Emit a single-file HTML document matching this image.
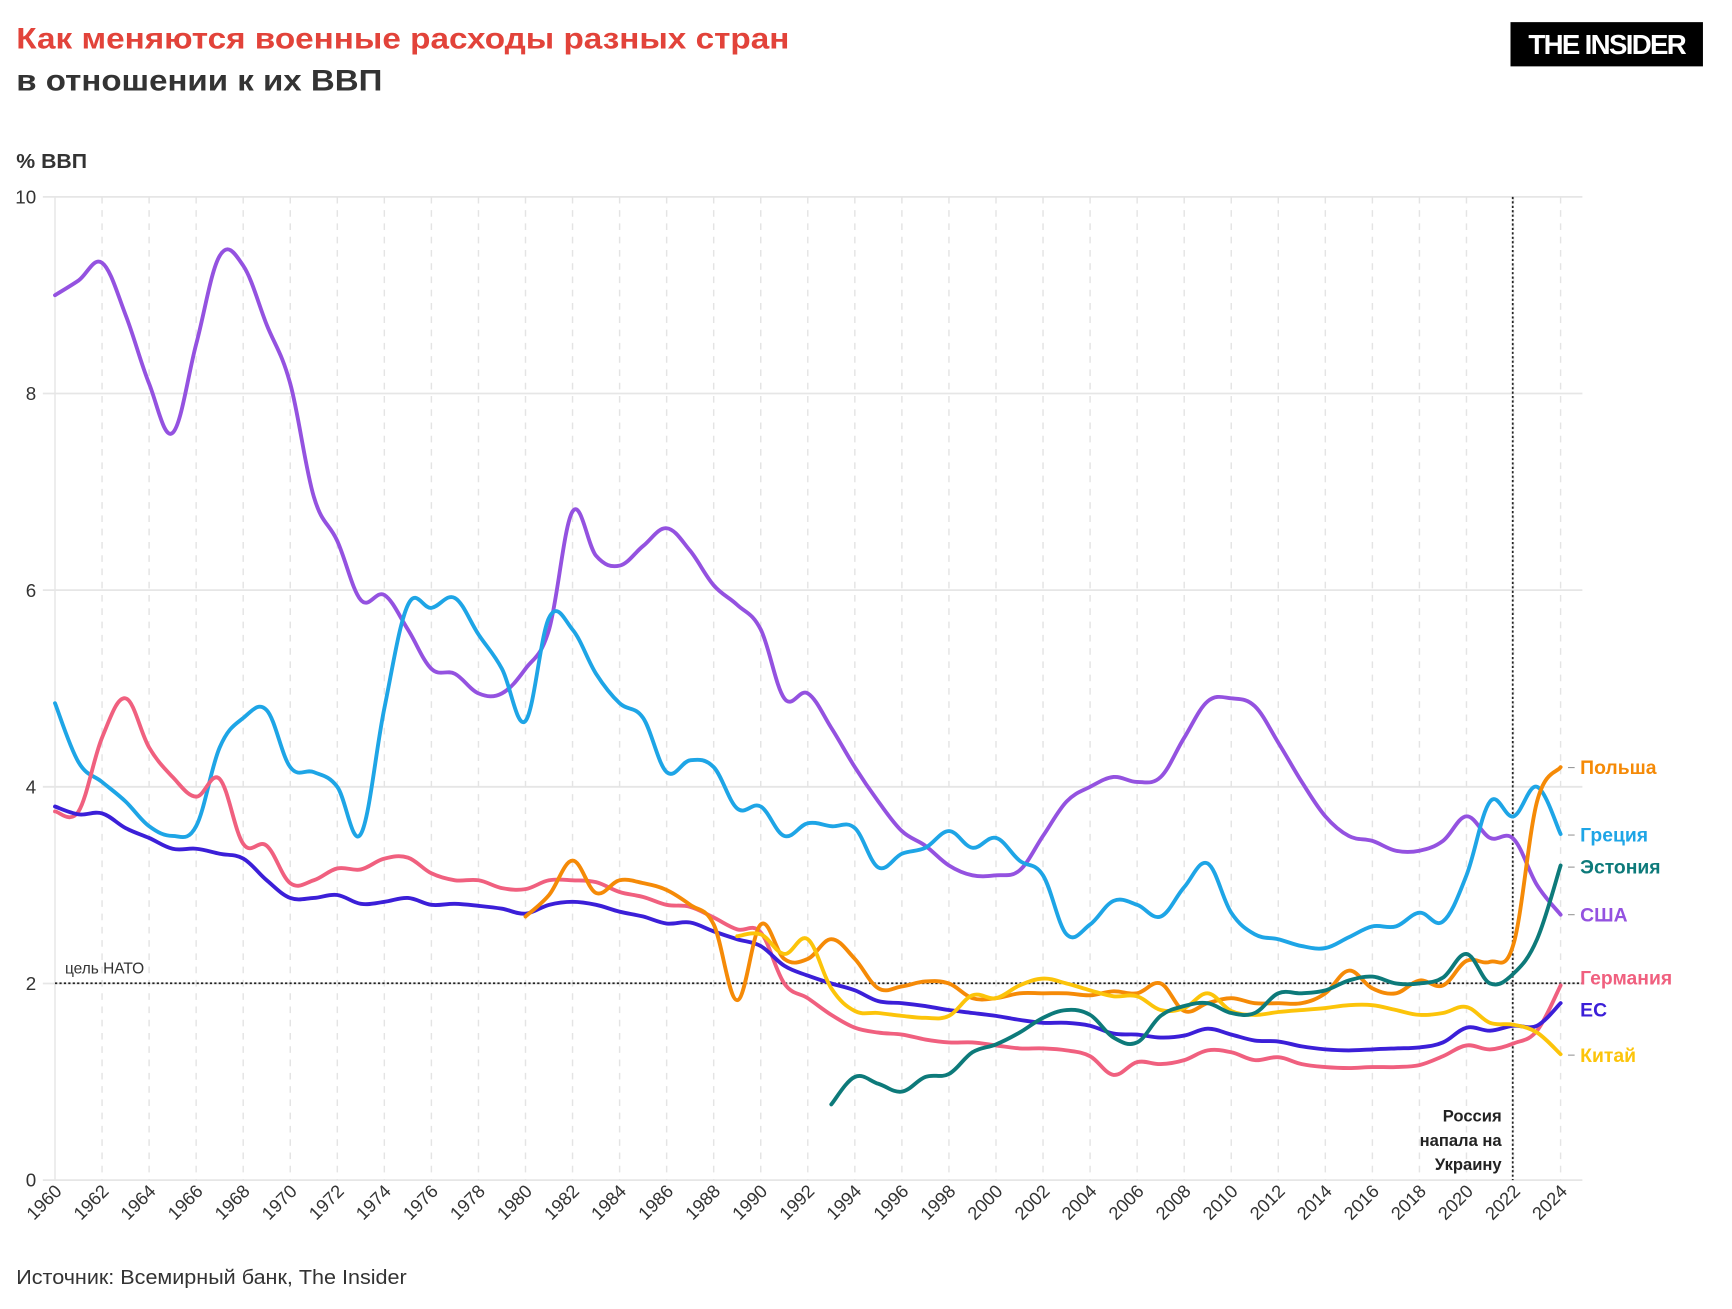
<!DOCTYPE html>
<html><head><meta charset="utf-8"><style>
html,body{margin:0;padding:0;background:#fff;}
svg{display:block;}
text{font-family:"Liberation Sans","DejaVu Sans",sans-serif;}
</style></head><body>
<svg id="s" width="1732" height="1309" viewBox="0 0 1732 1309" xmlns="http://www.w3.org/2000/svg">
<rect width="1732" height="1309" fill="#fff"/>
<g id="g" transform="translate(-1.4,-2.2) scale(1.106)">
<text x="16" y="46" font-size="27" font-weight="bold" fill="#e2433a" textLength="699" lengthAdjust="spacingAndGlyphs">Как меняются военные расходы разных стран</text>
<text x="16" y="84" font-size="27" font-weight="bold" fill="#333" textLength="331" lengthAdjust="spacingAndGlyphs">в отношении к их ВВП</text>
<rect x="1367" y="22" width="174" height="40" fill="#000"/>
<text x="1454" y="51" font-size="25" font-weight="bold" fill="#fff" text-anchor="middle" letter-spacing="-1.5">THE INSIDER</text>
<text x="16" y="154" font-size="18" font-weight="bold" fill="#333" textLength="64" lengthAdjust="spacingAndGlyphs">% ВВП</text>
<g id="grid"></g>
<text x="60" y="882" font-size="14" fill="#333">цель НАТО</text>
<line x1="51" y1="891" x2="1432" y2="891" stroke="#222" stroke-width="1.6" stroke-dasharray="2,2"/>
<line x1="1369" y1="180" x2="1369" y2="1069" stroke="#222" stroke-width="1.6" stroke-dasharray="2,2"/>
<g font-size="15" font-weight="bold" fill="#222" text-anchor="end">
<text x="1359" y="1016">Россия</text><text x="1359" y="1038">напала на</text><text x="1359" y="1060">Украину</text></g>
<g id="lines"></g>
<g font-size="17.5" font-weight="bold">
<text x="1430" y="702" fill="#f58a07">Польша</text>
<text x="1430" y="763" fill="#1ea5e6">Греция</text>
<text x="1430" y="792" fill="#0d7a7a">Эстония</text>
<text x="1430" y="835" fill="#9452e0">США</text>
<text x="1430" y="892" fill="#f0607f">Германия</text>
<text x="1430" y="921" fill="#3b1fd8">ЕС</text>
<text x="1430" y="962" fill="#fcc40a">Китай</text>
</g>
<g stroke="#999" stroke-width="1">
<line x1="1419" y1="696" x2="1425" y2="696"/><line x1="1419" y1="757" x2="1425" y2="757"/><line x1="1419" y1="786" x2="1425" y2="786"/><line x1="1419" y1="829" x2="1425" y2="829"/><line x1="1419" y1="956" x2="1425" y2="956"/>
</g>
<text x="16" y="1163" font-size="18" fill="#333" textLength="353" lengthAdjust="spacingAndGlyphs">Источник: Всемирный банк, The Insider</text>
</g>
</svg>
<script>
var NS="http://www.w3.org/2000/svg";
function X(y){return 51+(y-1960)*21.27;}function Y(v){return 1069-v*88.9;}
function el(t,a,p,txt){var e=document.createElementNS(NS,t);for(var k in a)e.setAttribute(k,a[k]);if(txt)e.textContent=txt;p.appendChild(e);return e;}
var G=document.getElementById("grid");
for(var v=0;v<=10;v+=2){el("line",{x1:40,y1:Y(v),x2:1432,y2:Y(v),stroke:"#e6e6e6","stroke-width":1.6},G);
el("text",{x:34,y:Y(v)+6,"font-size":17,fill:"#333","text-anchor":"end"},G,String(v));}
for(var yr=1960;yr<=2024;yr+=2){if(yr>1960)el("line",{x1:X(yr),y1:180,x2:X(yr),y2:1069,stroke:"#e4e4e4","stroke-width":1.3,"stroke-dasharray":"6,6"},G);
el("text",{x:0,y:0,"font-size":16.5,fill:"#333","text-anchor":"end",transform:"translate("+(X(yr)+7)+",1080) rotate(-45)"},G,String(yr));}
el("line",{x1:51,y1:180,x2:51,y2:1069,stroke:"#e6e6e6","stroke-width":1.3},G);
var D={
usa:["#9452e0",1960,[9.0,9.15,9.33,8.8,8.1,7.6,8.5,9.4,9.3,8.7,8.1,6.95,6.5,5.9,5.95,5.6,5.2,5.15,4.95,4.95,5.2,5.6,6.8,6.35,6.25,6.45,6.63,6.4,6.05,5.85,5.6,4.9,4.95,4.6,4.2,3.85,3.55,3.4,3.2,3.1,3.1,3.15,3.5,3.85,4.0,4.1,4.05,4.1,4.5,4.87,4.9,4.82,4.45,4.05,3.7,3.5,3.45,3.35,3.35,3.45,3.7,3.48,3.47,3.0,2.7]],
gr:["#1ea5e6",1960,[4.85,4.25,4.05,3.85,3.6,3.5,3.6,4.4,4.7,4.78,4.2,4.15,4.0,3.52,4.8,5.85,5.82,5.92,5.55,5.2,4.67,5.72,5.6,5.15,4.85,4.7,4.15,4.27,4.2,3.78,3.8,3.5,3.63,3.6,3.58,3.18,3.32,3.38,3.55,3.38,3.48,3.25,3.1,2.5,2.6,2.84,2.8,2.68,2.98,3.22,2.72,2.5,2.45,2.38,2.36,2.47,2.58,2.58,2.72,2.63,3.1,3.85,3.7,4.0,3.52]],
de:["#f0607f",1960,[3.75,3.75,4.5,4.9,4.4,4.1,3.9,4.08,3.42,3.4,3.02,3.05,3.17,3.16,3.27,3.28,3.12,3.05,3.05,2.97,2.96,3.05,3.05,3.03,2.93,2.88,2.8,2.78,2.67,2.55,2.52,2.0,1.85,1.68,1.55,1.5,1.48,1.43,1.4,1.4,1.37,1.34,1.34,1.32,1.26,1.07,1.2,1.18,1.22,1.32,1.3,1.22,1.25,1.18,1.15,1.14,1.15,1.15,1.17,1.26,1.37,1.33,1.39,1.52,1.98]],
eu:["#3b1fd8",1960,[3.8,3.72,3.73,3.58,3.48,3.37,3.37,3.32,3.27,3.05,2.87,2.87,2.9,2.81,2.83,2.87,2.8,2.81,2.79,2.76,2.71,2.8,2.83,2.8,2.73,2.68,2.61,2.62,2.53,2.45,2.38,2.18,2.08,2.0,1.93,1.82,1.8,1.77,1.73,1.7,1.67,1.63,1.6,1.6,1.57,1.49,1.48,1.45,1.47,1.54,1.48,1.42,1.41,1.36,1.33,1.32,1.33,1.34,1.35,1.4,1.55,1.52,1.57,1.57,1.8]],
pl:["#f58a07",1980,[2.68,2.9,3.25,2.92,3.05,3.02,2.95,2.8,2.6,1.83,2.6,2.25,2.25,2.45,2.25,1.95,1.97,2.02,2.0,1.85,1.85,1.9,1.9,1.9,1.88,1.92,1.9,2.0,1.72,1.8,1.85,1.8,1.8,1.8,1.9,2.13,1.95,1.9,2.03,1.98,2.23,2.22,2.4,3.85,4.2]],
cn:["#fcc40a",1989,[2.48,2.5,2.3,2.45,1.95,1.72,1.7,1.67,1.65,1.67,1.88,1.85,1.98,2.05,2.0,1.93,1.87,1.87,1.73,1.75,1.9,1.72,1.68,1.71,1.73,1.75,1.78,1.78,1.73,1.68,1.7,1.76,1.6,1.58,1.5,1.28]],
ee:["#0d7a7a",1993,[0.77,1.05,0.98,0.9,1.05,1.08,1.3,1.38,1.5,1.65,1.73,1.68,1.45,1.4,1.67,1.77,1.8,1.7,1.7,1.9,1.9,1.93,2.03,2.07,2.0,2.0,2.06,2.3,2.0,2.1,2.45,3.2]]};
var L=document.getElementById("lines");
["usa","gr","de","eu","pl","cn","ee"].forEach(function(k){var c=D[k][0],s=D[k][1],a=D[k][2];
var p=a.map(function(v,i){return [X(s+i),Y(v)];});
var d="M"+p[0][0].toFixed(1)+","+p[0][1].toFixed(1);
for(var i=0;i<p.length-1;i++){var p0=p[i-1]||p[i],p1=p[i],p2=p[i+1],p3=p[i+2]||p2,t=0.18;
d+=" C"+(p1[0]+(p2[0]-p0[0])*t).toFixed(1)+","+(p1[1]+(p2[1]-p0[1])*t).toFixed(1)+" "+(p2[0]-(p3[0]-p1[0])*t).toFixed(1)+","+(p2[1]-(p3[1]-p1[1])*t).toFixed(1)+" "+p2[0].toFixed(1)+","+p2[1].toFixed(1);}
el("path",{d:d,fill:"none",stroke:c,"stroke-width":3.5,"stroke-linejoin":"round","stroke-linecap":"round"},L);});
</script>
</body></html>
